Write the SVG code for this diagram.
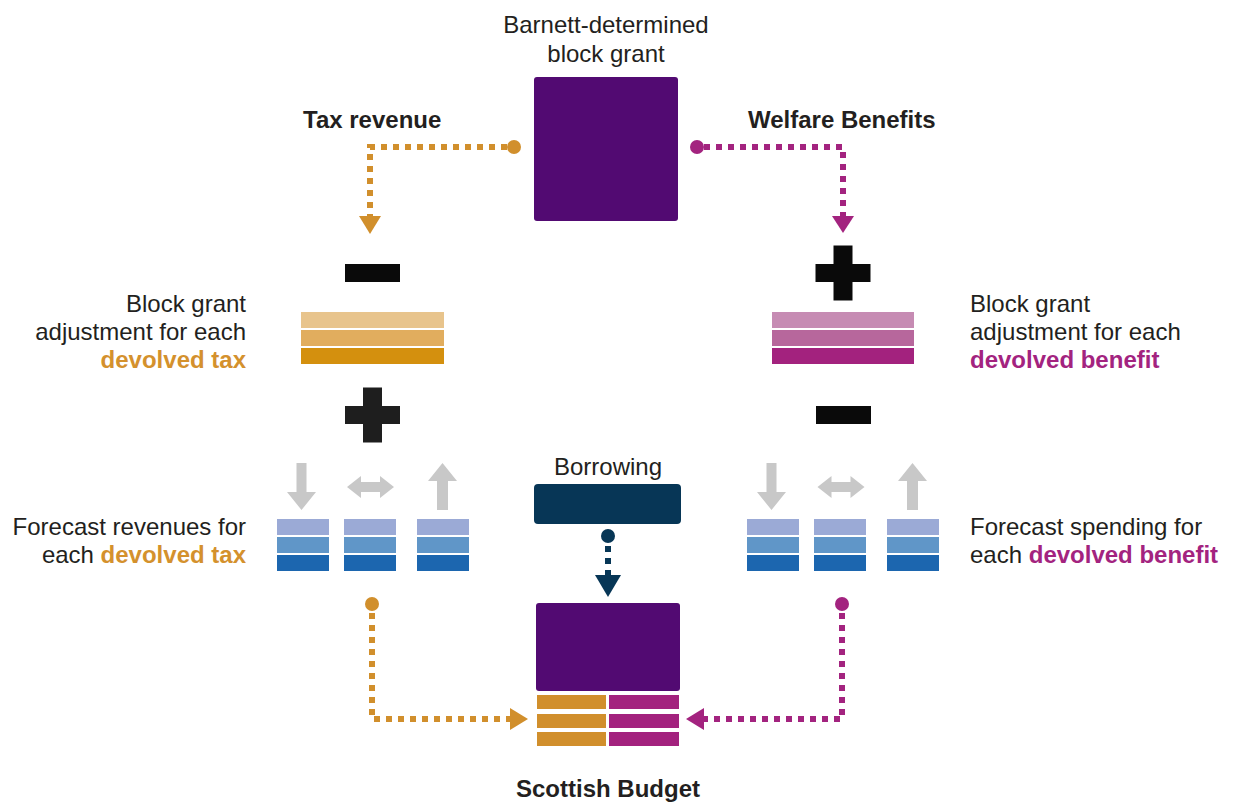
<svg xmlns="http://www.w3.org/2000/svg" width="1234" height="803" viewBox="0 0 1234 803">
<style>
text{font-family:"Liberation Sans",Arial,sans-serif;font-size:24px;fill:#231F20}
.b{font-weight:bold}
.or{fill:#D4912D;font-weight:bold}
.pu{fill:#A3237F;font-weight:bold}
.dOr{fill:none;stroke:#D18F2C;stroke-width:6;stroke-dasharray:6 6}
.dPu{fill:none;stroke:#A3237F;stroke-width:6;stroke-dasharray:6 6}
.dBl{fill:none;stroke:#073656;stroke-width:6;stroke-dasharray:6 6}
.grey{fill:#C8C8C8}
.blk{fill:#0A0A0A}
</style>
<defs>
<g id="stack">
<rect x="0" y="0" width="52" height="16" fill="#9BAAD6"/>
<rect x="0" y="18" width="52" height="16" fill="#6096C8"/>
<rect x="0" y="36" width="52" height="16" fill="#1C66AF"/>
</g>
<polygon id="down" class="grey" points="-5,0 5,0 5,29 14.5,29 0,47 -14.5,29 -5,29"/>
<polygon id="both" class="grey" points="-23.5,0 -9.5,-11 -9.5,-5 9.5,-5 9.5,-11 23.5,0 9.5,11 9.5,5 -9.5,5 -9.5,11"/>
<polygon id="up" class="grey" points="0,0 14.5,18 5.5,18 5.5,47 -5.5,47 -5.5,18 -14.5,18"/>
<g id="plus"><rect x="-27.5" y="-9" width="55" height="18"/><rect x="-9.5" y="-27.5" width="19" height="55"/></g>
</defs>

<g id="block-grant">
<text x="606" y="33" text-anchor="middle">Barnett-determined</text>
<text x="606" y="62" text-anchor="middle">block grant</text>
<rect x="534" y="77" width="144" height="144" rx="3" fill="#520A72"/>
</g>

<g id="tax-revenue"><text class="b" x="303" y="128">Tax revenue</text></g>
<g id="welfare-benefits"><text class="b" x="748" y="128">Welfare Benefits</text></g>

<g id="tax-adjustment">
<rect class="blk" x="345" y="264" width="55" height="18"/>
<rect x="301" y="312" width="143" height="16" fill="#E8C48C"/>
<rect x="301" y="330" width="143" height="16" fill="#E1AD5E"/>
<rect x="301" y="348" width="143" height="16" fill="#D4900E"/>
<use href="#plus" x="372.5" y="415" fill="#1E1E1E"/>
<text x="246" y="312" text-anchor="end">Block grant</text>
<text x="246" y="340" text-anchor="end">adjustment for each</text>
<text class="or" x="246" y="368" text-anchor="end">devolved tax</text>
</g>

<g id="benefit-adjustment">
<use href="#plus" x="843" y="273" fill="#0A0A0A"/>
<rect x="772" y="312" width="142" height="16" fill="#C68BB3"/>
<rect x="772" y="330" width="142" height="16" fill="#B7679C"/>
<rect x="772" y="348" width="142" height="16" fill="#A3227E"/>
<rect class="blk" x="816" y="406" width="55" height="18"/>
<text x="970" y="312">Block grant</text>
<text x="970" y="340">adjustment for each</text>
<text class="pu" x="970" y="368">devolved benefit</text>
</g>

<g id="tax-forecast">
<use href="#down" x="301.5" y="463"/>
<use href="#both" x="370.5" y="487"/>
<use href="#up" x="442.5" y="463"/>
<use href="#stack" x="277" y="519"/>
<use href="#stack" x="344" y="519"/>
<use href="#stack" x="417" y="519"/>
<text x="246" y="535" text-anchor="end">Forecast revenues for</text>
<text x="246" y="563" text-anchor="end">each <tspan class="or">devolved tax</tspan></text>
</g>

<g id="benefit-forecast">
<use href="#down" x="771.5" y="463"/>
<use href="#both" x="841" y="487"/>
<use href="#up" x="912.5" y="463"/>
<use href="#stack" x="747" y="519"/>
<use href="#stack" x="814" y="519"/>
<use href="#stack" x="887" y="519"/>
<text x="970" y="535">Forecast spending for</text>
<text x="970" y="563">each <tspan class="pu">devolved benefit</tspan></text>
</g>

<g id="borrowing">
<text x="608" y="475" text-anchor="middle">Borrowing</text>
<rect x="534" y="484" width="147" height="40" rx="4" fill="#073656"/>
</g>

<g id="scottish-budget">
<rect x="536" y="603" width="144" height="88" rx="3" fill="#520A72"/>
<rect x="537" y="695" width="69" height="14" fill="#D18F2C"/>
<rect x="537" y="714" width="69" height="14" fill="#D18F2C"/>
<rect x="537" y="732" width="69" height="14" fill="#D18F2C"/>
<rect x="609" y="695" width="70" height="14" fill="#A3227E"/>
<rect x="609" y="714" width="70" height="14" fill="#A3227E"/>
<rect x="609" y="732" width="70" height="14" fill="#A3227E"/>
<text class="b" x="608" y="797" text-anchor="middle">Scottish Budget</text>
</g>

<g id="connectors">
<circle cx="514" cy="147" r="7" fill="#D18F2C"/>
<path class="dOr" d="M507 147H370V216"/>
<polygon points="359,216 381,216 370,234" fill="#D18F2C"/>
<circle cx="697" cy="147" r="7" fill="#A3237F"/>
<path class="dPu" d="M704 147H843V216"/>
<polygon points="832,216 854,216 843,233" fill="#A3237F"/>
<circle cx="608" cy="536" r="7" fill="#073656"/>
<path class="dBl" d="M608 546V575"/>
<polygon points="595,575 621,575 608,597" fill="#073656"/>
<circle cx="372" cy="604" r="7" fill="#D18F2C"/>
<path class="dOr" d="M372 613V719H510"/>
<polygon points="510,708 510,730 528,719" fill="#D18F2C"/>
<circle cx="842" cy="604" r="7" fill="#A3237F"/>
<path class="dPu" d="M842 613V719H704"/>
<polygon points="704,708 704,730 686,719" fill="#A3237F"/>
</g>
</svg>
